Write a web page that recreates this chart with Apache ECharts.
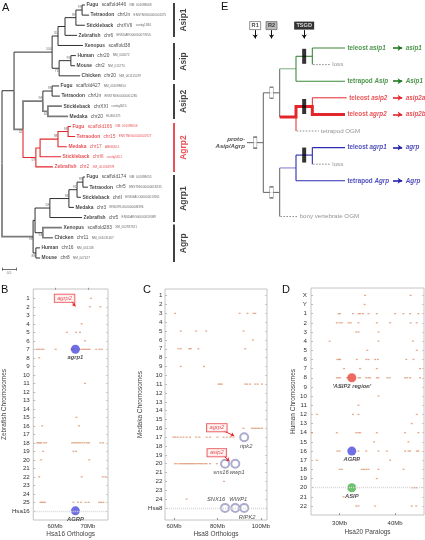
<!DOCTYPE html>
<html><head><meta charset="utf-8">
<script src="https://cdn.jsdelivr.net/npm/echarts@6/dist/echarts.min.js"></script>
<style>html,body{margin:0;padding:0;background:#fff}#c{width:425px;height:540px}</style>
</head><body><div id="c"></div><script>
const FONT = "'Liberation Sans', Arial, sans-serif";

// ---------- Panel A : phylogeny ----------
const aSpecies = ['Fugu','Tetraodon','Stickleback','Zebrafish','Xenopus','Human','Mouse','Chicken','Fugu','Tetraodon','Stickleback','Medaka','Fugu','Tetraodon','Medaka','Stickleback','Zebrafish','Fugu','Tetraodon','Stickleback','Medaka','Zebrafish','Xenopus','Chicken','Human','Mouse'];
const aLocus = ['scaffold446','chrUn','chrXVII','chr6','scaffold38','chr20','chr2','chr20','scaffold427','chrUn','chrXXI','chr20','scaffold166','chr15','chr17','chrIII','chr2','scaffold174','chr5','chrII','chr3','chr5','scaffold283','chr11','chr16','chr8'];
const aAcc = ['NM_001098668','ENSTNIG00000001375','contig1384','ENSDARG00000077656','','NM_001672','NM_015770','NM_001115079','NM_001098654','ENSTNIG00000001285','contig5615','EU461471','NM_001098656','ENSTNIG00000001927','AB080511','contig5451','XM_001334978','NM_001098655','ENSTNIG00000018235','ENSGACG00000017661','ENSORLG00000008396','ENSDARG00000059089','XM_002937321','NM_001031457','NM_001138','NM_007427'];
const aTip = [2.96,3.11,2.96,2.68,2.89,2.64,2.61,2.79,2.04,2.07,2.14,2.36,2.46,2.61,2.32,2.11,1.82,2.96,3.07,2.82,2.57,2.86,2.14,1.82,1.36,1.36];
const aNodes = [
 ['root',0,['rA','AgAll']],
 ['rA',0.43,['n100','n52']],
 ['n100',1.79,['n55','nAsip']],
 ['n55',2.0,['t1',4]],
 ['t1',2.25,['FTS1',3]],
 ['FTS1',2.64,['FT1',2]],
 ['FT1',2.86,[0,1]],
 ['nAsip',2.04,['HM',7]],
 ['HM',2.46,[5,6]],
 ['n52',0.75,['nAsip2','nAgrp2']],
 ['nAsip2',1.46,['FT2a','SM']],
 ['FT2a',1.79,[8,9]],
 ['SM',1.64,[10,11]],
 ['nAgrp2',1.21,['FTMS2',16]],
 ['FTMS2',1.36,['FTM2',15]],
 ['FTM2',2.0,['FT2',14]],
 ['FT2',2.36,[12,13]],
 ['AgAll',1.11,['Ag','HM2']],
 ['Ag',1.18,['nAgrp1','XC']],
 ['nAgrp1',1.71,['FTSM1',21]],
 ['FTSM1',2.39,['FTS1b',20]],
 ['FTS1b',2.68,['FT1b',19]],
 ['FT1b',2.89,[17,18]],
 ['XC',1.46,[22,23]],
 ['HM2',1.21,[24,25]]
];
const aBoot = {FT1:99,FTS1:99,n55:55,n100:100,HM:99,nAsip:71,FT2a:98,nAsip2:98,SM:61,n52:52,FT2:98,FTM2:98,nAgrp2:59,FT1b:99,FTS1b:91,FTSM1:93,nAgrp1:58,XC:94,HM2:88,AgAll:98};
const aClades = [['Asip1',-0.2,3.16],['Asip',3.75,7.4],['Asip2',7.8,11.26],['Agrp2',11.66,16.5],['Agrp1',16.8,21.44],['Agrp',21.7,25.4]];
const aScale = 0.5;

// ---------- Panel E : scenario ----------
const eStem = [[[0,11.4],[1,11.4]],[[1,5.4],[1,17.4]],[[1,5.4],[2,5.4]],[[1,17.4],[2,17.4]],[[2,2.5],[2,8.3]],[[2,14.45],[2,20.3]]];
const eGreenStem = [[[2,2.5],[3,2.5]]];
const eGreen = [[[3,1],[3,4]],[[3,1],[4,1]],[[4,0],[4,2]],[[4,0],[6,0]],[[3,4],[6,4]]];
const eRedMain = [[[2,8.3],[3,8.3],[3,7.05],[4,7.05],[4,8],[6,8]]];
const eRed = [[[4,7.05],[4,6],[6.1,6]],[[3,8.3],[3,10]]];
const eBlueStem = [[[2,14.45],[3,14.45]]];
const eBlue = [[[3,12.9],[3,16]],[[3,12.9],[4,12.9]],[[4,12],[4,14]],[[4,12],[6,12]],[[3,16],[6,16]]];
const eLost = [[[4.05,2],[5.1,2]],[[3.05,10],[4.4,10]],[[4.05,14],[5.1,14]],[[2.05,20.3],[3.1,20.3]]];
const eNotes = [['loss',5.1,2],['tetrapod OGM',4.4,10],['loss',5.1,14],['bony vertebrate OGM',3.1,20.3]];
const eRounds = [['R1',0.5],['R2',1.5],['TSGD',3.5]];
const eRoundMarks = [[0.5,11.4],[1.5,5.4],[1.5,17.4]];
const eTsgdMarks = [[3.5,1],[3.5,7.05],[3.5,12.9]];
const eTips = [['teleost','asip1','asip1',6,0,'g'],['tetrapod','Asip','Asip1',6,4,'g'],['teleost','asip2','asip2a',6.1,6,'r'],['teleost','agrp2','asip2b',6,8,'r'],['teleost','agrp1','agrp',6,12,'b'],['tetrapod','Agrp','Agrp',6,16,'b']];
const eRoot = ['proto-\nAsip/Agrp',0,11.4];

// ---------- Panel B ----------
const bRows = ['1','2','3','4','5','6','7','8','9','10','11','12','13','14','15','16','17','18','19','20','21','22','23','24','25','Hsa16'];
const bTicks = [60,70];
const bHits = [
 [1,[70.9]],[2,[70.6,73.8]],[4,[68.1]],[5,[63.6,66.4,67.6]],[6,[69.1]],
 [7,[54.5,55.2,55.9,56.5,60.2,65.0,65.6,67.5,68.2,68.8,69.4,70.0,70.5,72.5,73.5,74.2]],
 [8,[55.2]],[11,[69.1]],[15,[66.5]],[16,[56.1,67.3]],
 [18,[54.6,55.0,55.4,55.8,56.6,57.3,65.2,65.8,66.4,67.0,67.6,68.3,69.0,69.8,70.3,73.8,74.6]],
 [19,[56.4,65.6,66.4]],[20,[55.8,70.4]],[22,[55.2,68.1,74.5,75.3]],
 [25,[55.6,56.0,56.5,57.0,65.6,67.0,67.9,69.3,70.2,73.4,74.0,74.7]]
];
const bGenes = [['agrp1',66.2,7],['AGRP',66.2,26]];
const bCallouts = [['agrp2',62.9,1.0,65.0,1.35,66.2,1.95]];

// ---------- Panel C ----------
const cRows = ['1','2','3','4','5','6','7','8','9','10','11','12','13','14','15','16','17','18','19','20','21','22','23','24','Hsa8'];
const cTicks = [60,80,100];
const cHits = [
 [3,[60.5,90.2,93.8,96.6,97.4]],[5,[63.1,70.2,74.8,92.0]],[6,[96.3]],
 [7,[62.0,63.1,67.0,67.7,71.2,92.8]],[9,[63.1,73.8]],
 [11,[80.5,81.2,82.0,92.8,93.7,95.0,97.4,98.5,100.5]],
 [16,[92.0,95.8,96.7,97.6,98.5,99.4,100.5]],
 [17,[59.7,60.6,61.7,63.0,64.3,65.8,67.4,70.2,71.7,75.0,76.6,80.0,82.8,84.3,86.0,87.4]],
 [20,[60.5,61.5,62.7,63.5,64.3,65.0,65.8,66.5,67.2,68.0,68.8,69.6,70.5,71.5,72.4,73.2,74.2,75.0,76.6,79.7]],
 [22,[83.0]],[24,[65.8]]
];
const cGenes = [['ripk2',92.3,17],['snx16',83.5,20],['wwp1',88.2,20],['SNX16',83.5,25],['WWP1',88.2,25],['RIPK2',92.3,25]];
const cCallouts = [['agrp2',79.7,15.93,82.8,16.3,87.7,16.85],['asip2',79.7,18.76,82.8,19.1,85.5,19.7]];

// ---------- Panel D ----------
const dRows = ['X','Y','1','2','3','4','5','6','7','8','9','10','11','12','13','14','15','16','17','18','19','20','21','22'];
const dTicks = [30,40];
const dHits = [
 [1,[34.6,42.8]],[2,[34.5]],
 [3,[29.8,30.1,32.4,33.4,33.7,34.2,35.2,36.7,40.0,41.5,42.7,44.2]],
 [4,[29.5,30.0,30.4,31.6,32.0,33.4,36.7,39.1,42.8,43.9]],
 [5,[33.0,33.4,37.0]],[6,[28.2,37.0,43.2]],[7,[35.0,43.9]],
 [8,[29.6,29.9,30.1,33.1,34.8,35.2,36.4,36.9,42.0,43.3]],
 [9,[30.8,33.7,36.7,44.5]],
 [10,[29.5,29.8,30.1,31.3,31.6,33.4,33.7,34.8,35.2,35.5,36.7,37.0,38.6,39.0,41.8,42.2,42.7,44.5]],
 [11,[30.1,34.9]],[12,[37.0]],[13,[33.4]],[14,[25.9,32.4,33.4,43.9]],[15,[43.0]],
 [16,[25.0,29.5,33.0,33.4,33.7,36.7,41.8,44.2]],[17,[36.2,42.4]],
 [18,[29.6,30.0,33.4,34.8,37.0,38.5,41.8,42.4,42.7,43.9,44.2]],
 [19,[25.9,33.4,39.1]],[20,[30.0,30.4,34.0,34.4,34.8,35.2,37.0,41.5]],
 [21,[36.7]],[22,[43.0,43.5,43.9]],[23,[30.7]],[24,[33.0,33.4,36.4,43.0,43.8]]
];
const dGenes = [["'ASIP2 region'",32.2,10,'r'],['AGRP',32.2,18,'b'],['ASIP',32.2,22,'g']];

// ================= build =================
const nodeMap = {};
aNodes.forEach(n => nodeMap[n[0]] = {d:n[1], ch:n[2]});
function yOf(c){ if (typeof c === 'number') return c; const n = nodeMap[c]; if (n.y === undefined){ const ys = n.ch.map(yOf); n.y = (ys[0]+ys[ys.length-1])/2; } return n.y; }
function dOf(c){ return typeof c === 'number' ? aTip[c] : nodeMap[c].d; }
const redSet = new Set();
(function mark(c){ redSet.add(String(c)); if (typeof c !== 'number') nodeMap[c].ch.forEach(mark); })('nAgrp2');
const grayKids = new Set(['nAsip2','AgAll','n52','SM','10','11','22','23']);
const aEdges = [];
aNodes.forEach(n => { const pd = n[1], py = yOf(n[0]); n[2].forEach(c => {
  const cy = yOf(c), cd = dOf(c), k = String(c);
  let color = '#1a1a1a', width = 0.9;
  if (redSet.has(k)) { color = '#e3262b'; width = 1.1; }
  else if (grayKids.has(k)) { color = '#7a7a7a'; width = 1.7; }
  aEdges.push({coords:[[pd,py],[pd,cy],[cd,cy]], lineStyle:{color, width, opacity:1}});
});});
const belowBoot = new Set(['nAsip','SM','n52','nAgrp2','XC','HM2','AgAll']);
const bootAbove = [], bootBelow = [];
Object.keys(aBoot).forEach(id => { const item = {value:[nodeMap[id].d, yOf(id)], name:String(aBoot[id])}; (belowBoot.has(id) ? bootBelow : bootAbove).push(item); });

const series = [];
// A tree
series.push({type:'lines', coordinateSystem:'cartesian2d', xAxisIndex:0, yAxisIndex:0, polyline:true, silent:true, clip:false, lineStyle:{opacity:1}, data:aEdges, z:3});
series.push({type:'scatter', xAxisIndex:0, yAxisIndex:0, symbolSize:0, silent:true, clip:false,
  data: aTip.map((d,i)=>[d,i]),
  label:{show:true, position:'right', distance:1.5, fontFamily:FONT,
    formatter: p => { const i = p.dataIndex; const r = redSet.has(String(i)) ? 'R' : ''; return '{s'+r+'|'+aSpecies[i]+'} {c'+r+'|'+aLocus[i]+'}' + (aAcc[i] ? ' {a'+r+'|'+aAcc[i]+'}' : ''); },
    rich:{ s:{fontSize:4.9,fontWeight:'bold',color:'#111',fontFamily:FONT}, c:{fontSize:4.8,color:'#222',fontFamily:FONT}, a:{fontSize:3.1,color:'#444',fontFamily:FONT},
           sR:{fontSize:4.9,fontWeight:'bold',color:'#e3262b',fontFamily:FONT}, cR:{fontSize:4.8,color:'#e3262b',fontFamily:FONT}, aR:{fontSize:3.1,color:'#e3262b',fontFamily:FONT} } }});
[[bootAbove,-2.6],[bootBelow,2.8]].forEach(([arr,off]) => series.push({type:'scatter', xAxisIndex:0, yAxisIndex:0, symbolSize:0, silent:true, clip:false, data:arr,
  label:{show:true, position:'left', distance:0.5, offset:[0,off], formatter:'{b}', fontSize:3.4, color:'#444', fontFamily:FONT}}));
series.push({type:'lines', coordinateSystem:'cartesian2d', xAxisIndex:0, yAxisIndex:0, silent:true, clip:false,
  data: aClades.map(c => ({coords:[[6.14,c[1]],[6.14,c[2]]], lineStyle:{color: c[0]==='Agrp2' ? '#e3262b' : '#111', width:1.6, opacity:1}}))});
series.push({type:'scatter', xAxisIndex:0, yAxisIndex:0, symbolSize:0, silent:true, clip:false,
  data: aClades.map(c => ({value:[6.47,(c[1]+c[2])/2], name:c[0], label:{color: c[0]==='Agrp2' ? '#e3262b' : '#111'}})),
  label:{show:true, position:'inside', rotate:90, formatter:'{b}', fontSize:8.5, fontWeight:'bold', fontFamily:FONT, align:'center', verticalAlign:'middle'}});
series.push({type:'lines', coordinateSystem:'cartesian2d', xAxisIndex:0, yAxisIndex:0, silent:true, clip:false,
  lineStyle:{color:'#333', width:0.7, opacity:1},
  data:[{coords:[[0,26.1],[aScale,26.1]]},{coords:[[0,25.95],[0,26.25]]},{coords:[[aScale,25.95],[aScale,26.25]]}]});
series.push({type:'scatter', xAxisIndex:0, yAxisIndex:0, symbolSize:0, silent:true, clip:false, data:[{value:[aScale/2,26.45], name:String(aScale)}],
  label:{show:true, position:'inside', formatter:'{b}', fontSize:3.4, color:'#444', fontFamily:FONT}});

// E scenario
const eStyle = (color,width,type) => ({color, width, type: type||'solid', opacity:1});
const eGroups = [[eStem,eStyle('#707070',1.1)],[eGreenStem,eStyle('#86b886',1.1)],[eGreen,eStyle('#3a8a3a',1.1)],
  [eRedMain,eStyle('#e3262b',3)],[eRed,eStyle('#e3262b',1)],[eBlueStem,eStyle('#8585d6',1.1)],[eBlue,eStyle('#2c2cb2',1.1)],
  [eLost,eStyle('#888',1,[1.5,1.5])]];
eGroups.forEach(([segs,ls]) => series.push({type:'lines', coordinateSystem:'cartesian2d', xAxisIndex:1, yAxisIndex:1, polyline:true, silent:true, clip:false, lineStyle:ls, data:segs.map(s=>({coords:s}))}));
series.push({type:'scatter', xAxisIndex:1, yAxisIndex:1, silent:true, clip:false, symbol:'rect', symbolSize:[3.5,11], data:eRoundMarks,
  itemStyle:{color:'#fff', borderColor:'#666', borderWidth:0.9}, z:5});
series.push({type:'scatter', xAxisIndex:1, yAxisIndex:1, silent:true, clip:false, symbol:'rect', symbolSize:[4,15], data:eTsgdMarks,
  itemStyle:{color:'#000'}, z:5});
series.push({type:'scatter', xAxisIndex:1, yAxisIndex:1, silent:true, clip:false, symbol:'rect',
  data: eRounds.map((r,i) => ({value:[r[1],-2.7], name:r[0], symbolSize: r[0]==='TSGD' ? [20,8] : [11,8],
     itemStyle: i===0 ? {color:'#fff',borderColor:'#555',borderWidth:0.8} : i===1 ? {color:'#aaa',borderColor:'#555',borderWidth:0.8} : {color:'#000'},
     label:{color: i===2 ? '#fff' : '#111'}})),
  label:{show:true, position:'inside', formatter:'{b}', fontSize:5.6, fontWeight:'bold', fontFamily:FONT}, z:5});
series.push({type:'lines', coordinateSystem:'cartesian2d', xAxisIndex:1, yAxisIndex:1, silent:true, clip:false,
  symbol:['none','arrow'], symbolSize:4, lineStyle:{color:'#111', width:1, opacity:1},
  data: eRounds.map(r => ({coords:[[r[1],-2.15],[r[1],-1.15]]}))});
const eCol = {g:'#1f7a1f', r:'#e3262b', b:'#2222aa'};
series.push({type:'scatter', xAxisIndex:1, yAxisIndex:1, symbolSize:0, silent:true, clip:false,
  data: eTips.map(t => ({value:[t[3],t[4]], name:t[0]+'|'+t[1], label:{color:eCol[t[5]]}})),
  label:{show:true, position:'right', distance:2.5, fontFamily:FONT, fontSize:6.3, fontWeight:'bold',
    formatter: p => { const [a,b] = p.name.split('|'); return a+' {i|'+b+'}'; },
    rich:{i:{fontStyle:'italic', fontWeight:'bold', fontSize:6.3, fontFamily:FONT}}}});
series.push({type:'lines', coordinateSystem:'cartesian2d', xAxisIndex:1, yAxisIndex:1, silent:true, clip:false,
  symbol:['none','arrow'], symbolSize:4.5,
  data: eTips.map(t => ({coords:[[8.94,t[4]],[9.5,t[4]]], lineStyle:{color:eCol[t[5]], width:1.6, opacity:1}}))});
series.push({type:'scatter', xAxisIndex:1, yAxisIndex:1, symbolSize:0, silent:true, clip:false,
  data: eTips.map(t => ({value:[9.72,t[4]], name:t[2], label:{color:eCol[t[5]]}})),
  label:{show:true, position:'right', distance:0, formatter:'{b}', fontFamily:FONT, fontSize:6.3, fontWeight:'bold', fontStyle:'italic'}});
series.push({type:'scatter', xAxisIndex:1, yAxisIndex:1, symbolSize:0, silent:true, clip:false,
  data: eNotes.map(n => ({value:[n[1],n[2]], name:n[0]})),
  label:{show:true, position:'right', distance:2, formatter:'{b}', fontFamily:FONT, fontSize:6.2, color:'#777'}});
series.push({type:'scatter', xAxisIndex:1, yAxisIndex:1, symbolSize:0, silent:true, clip:false,
  data:[{value:[eRoot[1],eRoot[2]], name:eRoot[0]}],
  label:{show:true, position:'left', distance:2, formatter:'{b}', fontFamily:FONT, fontSize:6.2, fontWeight:'bold', fontStyle:'italic', color:'#222', align:'right', lineHeight:7.5}});

// B/C/D scatter panels
const grids = [
  {left:2, top:5, width:168, height:253},
  {left:247, top:48, width:98, height:166},
  {left:25, top:289, width:83, height:231, show:true, borderColor:'#c4c4c4', borderWidth:1},
  {left:165, top:289, width:102, height:231, show:true, borderColor:'#c4c4c4', borderWidth:1},
  {left:311, top:288, width:113, height:227, show:true, borderColor:'#c4c4c4', borderWidth:1}
];
const hidden = {show:false};
const xAxes = [
  Object.assign({gridIndex:0, type:'value', min:0, max:6}, hidden),
  Object.assign({gridIndex:1, type:'value', min:0, max:6}, hidden)
];
const yAxes = [
  Object.assign({gridIndex:0, type:'value', min:0, max:25, inverse:true}, hidden),
  Object.assign({gridIndex:1, type:'value', min:0, max:20, inverse:true}, hidden)
];
function panel(gi, rows, yMin, yMax, xMin, xMax, ticks, xName, yName, xGap, yGap, lblMargin, xLblMargin){
  const rowIdx = rows.map((r,i)=>i+1);
  xAxes.push({gridIndex:gi, type:'value', min:xMin, max:xMax, splitLine:{show:false}, axisLine:{show:false},
    axisTick:{show:true, inside:true, length:2, customValues:ticks, lineStyle:{color:'#999'}},
    axisLabel:{customValues:ticks, formatter:v=>v+'Mb', fontSize:6, color:'#333', fontFamily:FONT, margin:xLblMargin},
    name:xName, nameLocation:'middle', nameGap:xGap, nameTextStyle:{fontSize:6.5, color:'#444', fontFamily:FONT}});
  yAxes.push({gridIndex:gi, type:'value', min:yMin, max:yMax, inverse:true, splitLine:{show:false}, axisLine:{show:false},
    axisTick:{show:true, inside:true, length:2, customValues:rowIdx, lineStyle:{color:'#bbb'}},
    axisLabel:{customValues:rowIdx, formatter:v=>rows[v-1]||'', fontSize:6.2, color:'#333', fontFamily:FONT, margin:lblMargin},
    name:yName, nameLocation:'middle', nameGap:yGap, nameTextStyle:{fontSize:6.5, color:'#444', fontFamily:FONT}});
}
panel(2, bRows, -0.094, 27.08, 53.4, 76.1, bTicks, 'Hsa16 Orthologs', 'Zebrafish Chromosomes', 11, 16.5, 3.5, 3);
panel(3, cRows, 0.24, 26.37, 55.85, 102.8, cTicks, 'Hsa8 Orthologs', 'Medaka Chromosomes', 11, 14, 2.5, 3);
panel(4, dRows, 0.2, 24.98, 24.85, 45.2, dTicks, 'Hsa20 Paralogs', 'Human Chromosomes', 14, 14.5, 4, 5);
[[2,bRows,-0.094,27.08],[3,cRows,0.24,26.37],[4,dRows,0.2,24.98]].forEach(([gi,rows,a,b]) => {
  const rowIdx = rows.map((r,i)=>i+1);
  yAxes.push({gridIndex:gi, type:'value', position:'right', min:a, max:b, inverse:true, splitLine:{show:false}, axisLine:{show:false},
    axisTick:{show:true, inside:true, length:2, customValues:rowIdx, lineStyle:{color:'#ccc'}}, axisLabel:{show:false}});
});
const hitStyle = {color:'#d98e66', opacity:0.75};
function hitsToData(h){ const out=[]; h.forEach(([r,mbs]) => mbs.forEach(m => out.push([m,r]))); return out; }
[[2,2,bHits,26],[3,3,cHits,25],[4,4,dHits,22]].forEach(([xi,yi,h,hsaRow]) => series.push({type:'scatter', xAxisIndex:xi, yAxisIndex:yi, silent:true,
  symbol:'rect', symbolSize:[2,1.3], itemStyle:hitStyle, data:hitsToData(h),
  markLine:{silent:true, symbol:['none','none'], label:{show:false}, lineStyle:{color:'#d8d8d8', type:[1,1], width:1.4, opacity:1}, data:[{yAxis:hsaRow}]}}));
const geneLabel = {show:true, position:'bottom', distance:1, formatter:'{b}', fontSize:5.8, fontStyle:'italic', fontWeight:'bold', color:'#222', fontFamily:FONT};
series.push({type:'scatter', xAxisIndex:2, yAxisIndex:2, silent:true, symbolSize:9, itemStyle:{color:'#4b4bdc'},
  data: bGenes.map(g => ({value:[g[1],g[2]], name:g[0]})), label:geneLabel, z:4});
const cOffsets = {ripk2:[2,0], snx16:[-4,0], wwp1:[2,0], SNX16:[-9,0], WWP1:[3,0], RIPK2:[3,0]};
series.push({type:'scatter', xAxisIndex:3, yAxisIndex:3, silent:true, symbol:'emptyCircle', symbolSize:8, itemStyle:{color:'#9797c2', borderWidth:0.8},
  data: cGenes.map(g => ({value:[g[1],g[2]], name:g[0], label:{position: (g[0]==='SNX16'||g[0]==='WWP1') ? 'top' : 'bottom', offset:cOffsets[g[0]]}})),
  label:{show:true, distance:1, formatter:'{b}', fontSize:5.8, fontStyle:'italic', color:'#222', fontFamily:FONT}, z:4});
const dCol = {r:'#e8453c', b:'#4b4bdc', g:'#49b049'};
series.push({type:'scatter', xAxisIndex:4, yAxisIndex:4, silent:true, symbolSize:9,
  data: dGenes.map(g => ({value:[g[1],g[2]], name:g[0], itemStyle:{color:dCol[g[3]]}})), label:geneLabel, z:4});
[[2,2,bCallouts],[3,3,cCallouts]].forEach(([xi,yi,cs]) => {
  series.push({type:'scatter', xAxisIndex:xi, yAxisIndex:yi, silent:true, symbolSize:0, z:6,
    data: cs.map(c => ({value:[c[1],c[2]], name:c[0]})),
    label:{show:true, position:'inside', formatter:'{b}', fontSize:5.8, fontStyle:'italic', color:'#e3262b', fontFamily:FONT,
      backgroundColor:'#fff3f3', borderColor:'#e3262b', borderWidth:0.8, padding:[1,2.5,0.5,2.5]}});
  series.push({type:'lines', coordinateSystem:'cartesian2d', xAxisIndex:xi, yAxisIndex:yi, silent:true, z:6,
    symbol:['none','arrow'], symbolSize:3.5, lineStyle:{color:'#e3262b', width:1, opacity:1},
    data: cs.map(c => ({coords:[[c[3],c[4]],[c[5],c[6]]]}))});
});

const panelLetters = [['A',2,2],['E',221,1],['B',1,284],['C',143,284],['D',282,284]];
const chart = echarts.init(document.getElementById('c'), null, {renderer:'canvas'});
chart.setOption({
  animation:false, backgroundColor:'#fff', textStyle:{fontFamily:FONT},
  grid:grids, xAxis:xAxes, yAxis:yAxes, series:series,
  graphic: panelLetters.map(l => ({type:'text', left:l[1], top:l[2], style:{text:l[0], fontSize:11, fontFamily:FONT, fill:'#111'}}))
});
</script></body></html>
